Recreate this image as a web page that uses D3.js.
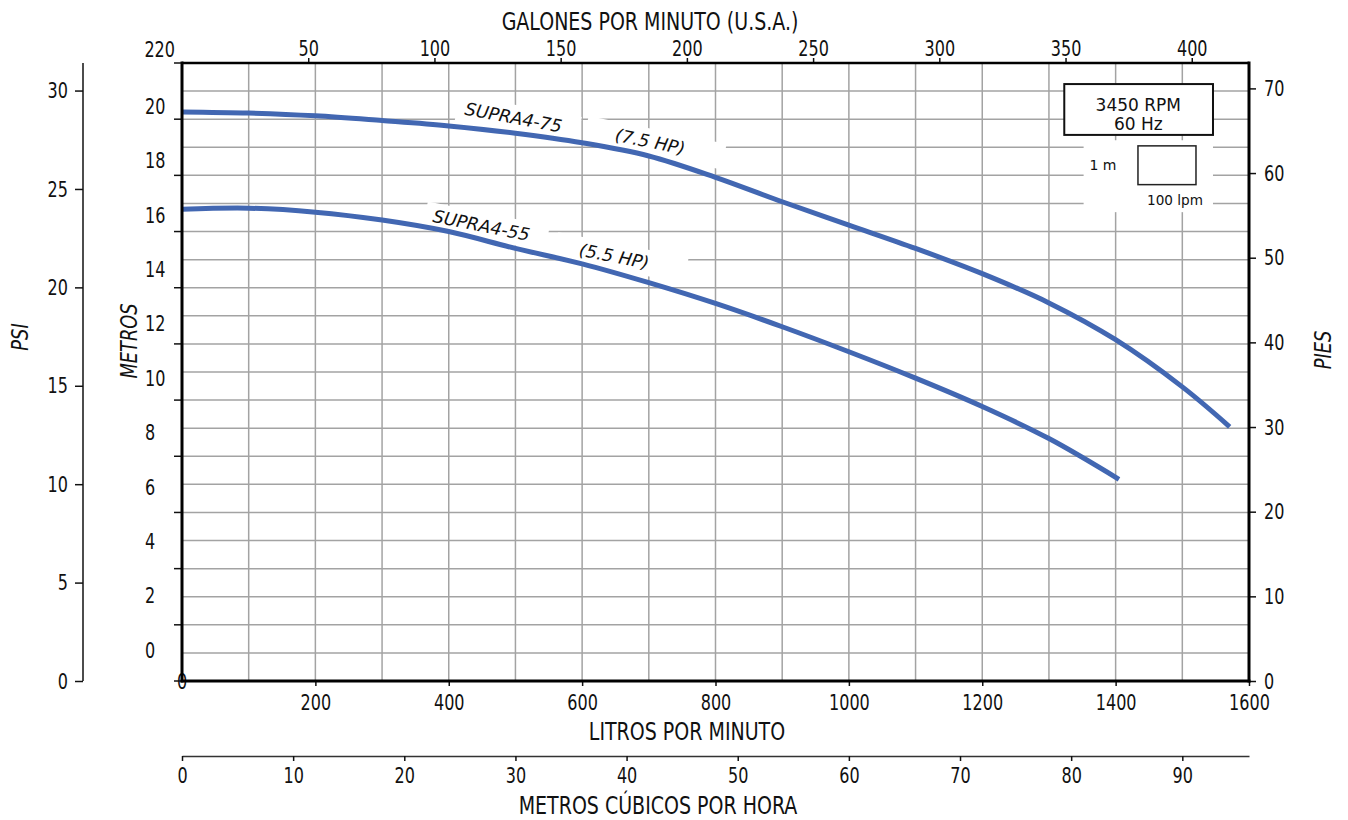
<!DOCTYPE html>
<html>
<head>
<meta charset="utf-8">
<script src="https://cdn.jsdelivr.net/npm/d3@7"></script>
<style>
  html, body { margin: 0; padding: 0; background: #fff; }
  svg { display: block; }
</style>
</head>
<body>
<script>
// ---------------- DATA ----------------
const flowLpm75 = [0, 100, 200, 300, 400, 500, 600, 700, 800, 900, 1000, 1100, 1200, 1300, 1400, 1500, 1571];
const headM75   = [20.26, 20.22, 20.12, 19.95, 19.76, 19.50, 19.16, 18.69, 17.93, 17.06, 16.23, 15.40, 14.50, 13.46, 12.15, 10.47, 9.05];
const flowLpm55 = [0, 100, 200, 300, 400, 500, 600, 700, 800, 900, 1000, 1100, 1200, 1300, 1405];
const headM55   = [16.79, 16.83, 16.69, 16.41, 16.00, 15.40, 14.85, 14.18, 13.44, 12.61, 11.72, 10.78, 9.77, 8.63, 7.18];

const seriesNames = ["SUPRA4-75", "SUPRA4-55"];
const seriesPower = ["(7.5 HP)", "(5.5 HP)"];

const lpmTicks   = [200, 400, 600, 800, 1000, 1200, 1400, 1600];
const gpmTicks   = [50, 100, 150, 200, 250, 300, 350, 400];
const m3hTicks   = [0, 10, 20, 30, 40, 50, 60, 70, 80, 90];
const psiTicks   = [0, 5, 10, 15, 20, 25, 30];
const feetTicks  = [0, 10, 20, 30, 40, 50, 60, 70];
const metroTicks = [0, 2, 4, 6, 8, 10, 12, 14, 16, 18, 20, 22];
const metroLabels = [0, 2, 4, 6, 8, 10, 12, 14, 16, 18, 20];
const strayTopLabel = "220";

const titles = {
  top: "GALONES POR MINUTO (U.S.A.)",
  bottom: "LITROS POR MINUTO",
  bottom2: "METROS CÚBICOS POR HORA",
  psi: "PSI", metros: "METROS", pies: "PIES"
};
const legendLines = ["3450 RPM", "60 Hz"];
const scaleLabels = ["1 m", "100 lpm"];

// ---------------- LAYOUT ----------------
const W = 1348, H = 820;
const L = 182, R = 1249, T = 63, B = 681;
const COND = "'Liberation Sans Narrow','DejaVu Sans Condensed','Arial Narrow',sans-serif";
const SANS = "'DejaVu Sans','Verdana',sans-serif";
const BLUE = "#4267b2";
const GRID = "#a3a3a3";
const fmt = d3.format("d");

const x = d3.scaleLinear().domain([0, 1600]).range([L, R]);
const yM = d3.scaleLinear().domain([0, 22]).range([B, T]);
const yFt = d3.scaleLinear().domain([0, 73]).range([B, T]);
const yPsi = d3.scaleLinear().domain([0, 31.4]).range([B, T]);
const xG = d3.scaleLinear().domain([0, 1600 / 3.78541]).range([L, R]);
const xC = d3.scaleLinear().domain([0, 96]).range([L, R]);
const yMLabel = d3.scaleLinear().domain([0, 20]).range([yM(1.1), yM(20.47)]);

const svg = d3.select("body").append("svg").attr("width", W).attr("height", H)
  .style("font-family", COND);

const gGrid = svg.append("g");
const gHalo = svg.append("g");
const gCurve = svg.append("g");
const gText = svg.append("g");
const gAxes = svg.append("g");

// gridlines
gGrid.selectAll("line.v").data(d3.range(100, 1600, 100)).join("line")
  .attr("x1", d => x(d)).attr("x2", d => x(d)).attr("y1", T).attr("y2", B)
  .attr("stroke", GRID).attr("stroke-width", 1.5);
gGrid.selectAll("line.h").data(d3.range(1, 22, 1)).join("line")
  .attr("y1", d => yM(d)).attr("y2", d => yM(d)).attr("x1", L).attr("x2", R)
  .attr("stroke", GRID).attr("stroke-width", 1.5);

// curves
const line = d3.line().x(d => x(d[0])).y(d => yM(d[1])).curve(d3.curveCatmullRom.alpha(0.5));
const curves = [d3.zip(flowLpm75, headM75), d3.zip(flowLpm55, headM55)];
gCurve.selectAll("path").data(curves).join("path")
  .attr("d", line).attr("fill", "none").attr("stroke", BLUE)
  .attr("stroke-width", 5).attr("stroke-linecap", "butt");

// curve labels with white boxes
const labelSpecs = [
  { text: seriesNames[0], q: 497, m: 20.06, a: 10.5, pl: 8, pr: 18 },
  { text: seriesPower[0], q: 702, m: 19.20, a: 11.5, pl: 30, pr: 40 },
  { text: seriesNames[1], q: 449, m: 16.22, a: 11.3, pl: 8, pr: 18 },
  { text: seriesPower[1], q: 648, m: 15.12, a: 11.0, pl: 24, pr: 38 }
];
labelSpecs.forEach(s => {
  const g = gText.append("g").attr("transform", `translate(${x(s.q)},${yM(s.m)}) rotate(${s.a})`);
  const t = g.append("text").text(s.text).attr("text-anchor", "middle").attr("dy", "0.35em")
    .attr("font-family", SANS).attr("font-style", "italic").attr("font-size", 17.5).attr("fill", "#111");
  const bb = t.node().getBBox();
  gHalo.append("rect")
    .attr("transform", `translate(${x(s.q)},${yM(s.m)}) rotate(${s.a})`)
    .attr("x", bb.x - s.pl).attr("y", bb.y - 3).attr("width", bb.width + s.pl + s.pr).attr("height", bb.height + 6)
    .attr("fill", "#fff");
});

// legend / scale box
gHalo.append("rect").attr("x", x(1352)).attr("y", yM(19.25)).attr("width", x(1546) - x(1352)).attr("height", yM(16.69) - yM(19.25)).attr("fill", "#fff");
gText.append("rect").attr("x", x(1323)).attr("y", yM(21.25)).attr("width", x(1546) - x(1323)).attr("height", yM(19.44) - yM(21.25))
  .attr("fill", "#fff").attr("stroke", "#111").attr("stroke-width", 2);
gText.selectAll("text.leg").data(legendLines).join("text")
  .attr("x", x(1434)).attr("y", (d, i) => yM(i === 0 ? 20.52 : 19.84)).attr("dy", "0.35em")
  .attr("text-anchor", "middle").attr("font-family", SANS).attr("font-size", 17).attr("fill", "#111").text(d => d);
gText.append("rect").attr("x", x(1433.5)).attr("y", yM(19.05)).attr("width", x(1520.5) - x(1433.5)).attr("height", yM(17.67) - yM(19.05))
  .attr("fill", "none").attr("stroke", "#222").attr("stroke-width", 1.5);
gText.append("text").attr("x", x(1381)).attr("y", yM(18.37)).attr("dy", "0.35em").attr("text-anchor", "middle")
  .attr("font-family", SANS).attr("font-size", 14).attr("fill", "#111").text(scaleLabels[0]);
gText.append("text").attr("x", x(1489)).attr("y", yM(17.12)).attr("dy", "0.35em").attr("text-anchor", "middle")
  .attr("font-family", SANS).attr("font-size", 13.6).attr("fill", "#111").text(scaleLabels[1]);

// ---------------- AXES ----------------
function styleAxis(g, size) {
  g.attr("font-family", COND).attr("font-size", size);
  g.selectAll("text").attr("fill", "#111").classed("tick-label", true);
  g.selectAll(".tick line").attr("stroke", "#111").attr("stroke-width", 1.5);
}

// bottom LPM
const axB = gAxes.append("g").attr("transform", `translate(0,${B})`)
  .call(d3.axisBottom(x).tickValues(lpmTicks).tickFormat(fmt).tickSize(5).tickPadding(8));
axB.select(".domain").remove(); styleAxis(axB, 22);
// corner zero
gAxes.append("text").attr("class", "tick-label").attr("x", L).attr("y", B).attr("dy", "0.35em").attr("text-anchor", "middle")
  .attr("font-size", 22).attr("fill", "#111").text("0");

// top GPM
const axT = gAxes.append("g").attr("transform", `translate(0,${T})`)
  .call(d3.axisTop(xG).tickValues(gpmTicks).tickFormat(fmt).tickSize(5).tickPadding(2));
axT.select(".domain").remove(); styleAxis(axT, 22);
gAxes.append("text").attr("class", "tick-label").attr("x", L - 7).attr("y", T - 6).attr("text-anchor", "end")
  .attr("font-size", 22).attr("fill", "#111").text(strayTopLabel);

// right feet
const axR = gAxes.append("g").attr("transform", `translate(${R},0)`)
  .call(d3.axisRight(yFt).tickValues(feetTicks).tickFormat(fmt).tickSize(7).tickPadding(8));
axR.select(".domain").remove(); styleAxis(axR, 22);

// left PSI
const axP = gAxes.append("g").attr("transform", `translate(83,0)`)
  .call(d3.axisLeft(yPsi).tickValues(psiTicks).tickFormat(fmt).tickSize(8).tickPadding(7));
axP.select(".domain").remove(); styleAxis(axP, 22);
gAxes.append("line").attr("x1", 83).attr("x2", 83).attr("y1", T).attr("y2", B).attr("stroke", "#111").attr("stroke-width", 1.5);

// metros ticks
gAxes.selectAll("line.mt").data(metroTicks).join("line")
  .attr("x1", L - 8).attr("x2", L).attr("y1", d => yM(d)).attr("y2", d => yM(d))
  .attr("stroke", "#111").attr("stroke-width", 1.5);
gAxes.selectAll("text.ml").data(metroLabels).join("text")
  .attr("class", "tick-label")
  .attr("x", 145).attr("y", d => yMLabel(d)).attr("dy", "0.35em")
  .attr("font-size", 22).attr("fill", "#111").text(d => d);

// m3/h axis
const axC = gAxes.append("g").attr("transform", `translate(0,756)`)
  .call(d3.axisBottom(xC).tickValues(m3hTicks).tickFormat(fmt).tickSize(5).tickSizeOuter(0).tickPadding(6));
styleAxis(axC, 22);
axC.select(".domain").attr("stroke", "#333").attr("stroke-width", 1.5);

// plot borders
gAxes.append("line").attr("x1", L).attr("x2", R).attr("y1", T).attr("y2", T).attr("stroke", "#000").attr("stroke-width", 2.5);
gAxes.append("line").attr("x1", L).attr("x2", R).attr("y1", B).attr("y2", B).attr("stroke", "#000").attr("stroke-width", 3).attr("stroke-linecap", "square");
gAxes.append("line").attr("x1", L).attr("x2", L).attr("y1", T).attr("y2", B).attr("stroke", "#000").attr("stroke-width", 3).attr("stroke-linecap", "square");
gAxes.append("line").attr("x1", R).attr("x2", R).attr("y1", T).attr("y2", B).attr("stroke", "#000").attr("stroke-width", 3).attr("stroke-linecap", "square");

// titles
gAxes.append("text").attr("class", "title-h").attr("x", 650).attr("y", 30).attr("text-anchor", "middle").attr("font-size", 24).attr("fill", "#111").text(titles.top);
gAxes.append("text").attr("class", "title-h").attr("x", 687).attr("y", 740).attr("text-anchor", "middle").attr("font-size", 24).attr("fill", "#111").text(titles.bottom);
gAxes.append("text").attr("class", "title-h").attr("x", 658).attr("y", 814).attr("text-anchor", "middle").attr("font-size", 24).attr("fill", "#111").text(titles.bottom2);
[[titles.psi, 20, 337], [titles.metros, 129, 341], [titles.pies, 1323, 350]].forEach(([t, cx, cy]) => {
  gAxes.append("text").attr("class", "title-v").attr("transform", `translate(${cx},${cy}) rotate(-90)`)
    .attr("text-anchor", "middle").attr("dy", "0.35em").attr("font-size", 23).attr("font-style", "italic")
    .attr("fill", "#111").text(t);
});

// condense the fallback font to imitate a narrow face
function condense(sel, f) {
  sel.each(function () {
    const len = this.getComputedTextLength();
    d3.select(this).attr("textLength", len * f).attr("lengthAdjust", "spacingAndGlyphs");
  });
}
condense(svg.selectAll("text.tick-label"), 0.81);
condense(svg.selectAll("text.title-h"), 0.88);
condense(svg.selectAll("text.title-v"), 0.86);
</script>
</body>
</html>
